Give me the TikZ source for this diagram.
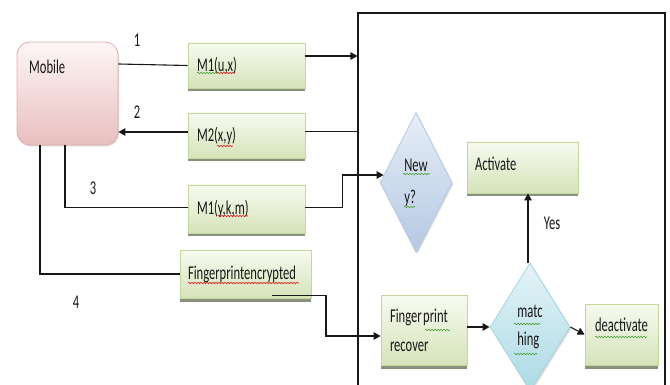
\documentclass[tikz,border=0pt]{standalone}
\usepackage{fontspec}
\setmainfont{Carlito}[FakeStretch=0.645]
\usetikzlibrary{arrows.meta,shapes.geometric,shadows,decorations.pathmorphing}

\definecolor{ink}{HTML}{181818}
\definecolor{grtop}{HTML}{F7FAF0}
\definecolor{grbot}{HTML}{D5E3B9}
\definecolor{grline}{HTML}{C4D79C}
\definecolor{pktop}{HTML}{FEF6F6}
\definecolor{pkbot}{HTML}{E8BEBE}
\definecolor{pkline}{HTML}{E2AEAE}
\definecolor{bltop}{HTML}{E6EEF7}
\definecolor{blbot}{HTML}{B4C8E2}
\definecolor{blline}{HTML}{B6CBE3}
\definecolor{aqtop}{HTML}{E4F3F7}
\definecolor{aqbot}{HTML}{ACDAE5}
\definecolor{aqline}{HTML}{A6D4E1}
\definecolor{sqred}{HTML}{E01010}
\definecolor{sqgreen}{HTML}{3FA02A}

\tikzset{
  every node/.style={font=\fontsize{19.5}{23}\selectfont, text=ink},
  conn/.style={draw=ink, line width=1.1pt},
  arr/.style={conn, -{Triangle[length=7pt,width=7.5pt]}},
  msgbox/.style={draw=grline, line width=0.8pt, top color=grtop, bottom color=grbot,
    drop shadow={shadow xshift=0pt, shadow yshift=-3.5pt, fill=black!45!grbot, opacity=0.85},
    inner ysep=0pt, align=left},
  mobbox/.style={draw=pkline, line width=0.8pt, top color=pktop, bottom color=pkbot,
    drop shadow={shadow xshift=1pt, shadow yshift=-1.5pt, fill=black!30, opacity=0.5},
    rounded corners=13pt, inner sep=0pt},
  newdia/.style={diamond, draw=blline, line width=0.8pt, top color=bltop, bottom color=blbot,
    drop shadow={shadow xshift=1.5pt, shadow yshift=-1.5pt, fill=black!35, opacity=0.45},
    inner sep=0pt, align=left},
  matchdia/.style={diamond, draw=aqline, line width=0.8pt, top color=aqtop, bottom color=aqbot,
    drop shadow={shadow xshift=1.5pt, shadow yshift=-1.5pt, fill=black!35, opacity=0.4},
    inner sep=0pt, align=left},
  numlabel/.style={inner sep=0pt},
  squig/.style={decorate, decoration={snake, amplitude=0.7pt, segment length=3pt}, line width=0.6pt},
}

\begin{document}
\begin{tikzpicture}[x=1pt, y=-1pt]
\useasboundingbox (0,0) rectangle (670,385);

% system frame
\node[draw=ink, line width=1.1pt, minimum width=307pt, minimum height=400pt, inner sep=0pt] (sys) at (511.5,213) {};

% mobile device
\node[mobbox, minimum width=101pt, minimum height=103pt] (mobile) at (67.5,93.5) {};
\node[inner sep=0pt, anchor=west] (mobtxt) at (29,67) {Mobile};

% messages
\node[msgbox, minimum height=45pt, text width=99pt, inner xsep=9pt] (m1ux) at (246.5,65.5) {M1(u,x)};
\node[msgbox, minimum height=45pt, text width=99pt, inner xsep=9pt] (m2) at (246.5,135.5) {M2(x,y)};
\node[msgbox, minimum height=48pt, text width=99pt, inner xsep=9pt] (m1ykm) at (246.5,209) {M1(y,k,m)};
\node[msgbox, minimum height=48pt, text width=115pt, inner xsep=8pt] (fenc) at (245.5,274) {Fingerprintencrypted};

% inside the system
\node[newdia, minimum width=72pt, minimum height=140pt] (newy) at (416,182.5) {New\\[9pt]y?};
\node[msgbox, minimum height=51pt, text width=95pt, inner xsep=8pt, text height=13pt, text depth=7.5pt] (act) at (522.5,167.5) {Activate};
\node[msgbox, minimum height=70pt, text width=68pt, inner xsep=9pt] (fpr) at (424,330) {Finger\hspace{1.5pt}print\\[6pt]recover};
\node[matchdia, minimum width=80pt, minimum height=128pt] (match) at (530,327) {matc\\[5pt]hing};
\node[msgbox, minimum height=61pt, text width=73pt, inner xsep=0pt, align=center, text height=12pt, text depth=19pt] (dea) at (621.5,334.5) {deactivate};

% spell-check underlines
\draw[squig, sqgreen] (197,73) -- (217,73);
\draw[squig, sqred] (217,73) -- (235,73);
\draw[squig, sqred] (217,146) -- (233,146);
\draw[squig, sqred] (218,216) -- (248,216);
\draw[squig, sqred] (188,283) -- (299,283);
\draw[squig, sqgreen] (403,174) -- (430,174);
\draw[squig, sqgreen] (404,207) -- (415,207);
\draw[squig, sqgreen] (425,330) -- (450,330);
\draw[squig, sqgreen] (514,324) -- (540,324);
\draw[squig, sqgreen] (514,354) -- (537,354);
\draw[squig, sqgreen] (595,337) -- (647,337);

% step numbers
\node[numlabel] (n1) at (137,40) {1};
\node[numlabel] (n2) at (137,112) {2};
\node[numlabel] (n3) at (93,188) {3};
\node[numlabel] (n4) at (76,302) {4};
\node[inner sep=0pt] (yes) at (552,223) {Yes};

% connectors
\draw[conn] ([yshift=29.5pt]mobile.east) -- (m1ux.west);
\draw[arr] ([yshift=9.5pt]m1ux.east) -- ([yshift=9.5pt]m1ux.east -| sys.west);
\draw[conn] ([yshift=4pt]m2.east -| sys.west) -- ([yshift=4pt]m2.east);
\draw[arr] ([yshift=3.5pt]m2.west) -- ([yshift=3.5pt]m2.west -| mobile.east);
\draw[conn] ([xshift=-2.5pt]mobile.south) |- ([yshift=1.5pt]m1ykm.west);
\draw[arr] ([yshift=1.5pt]m1ykm.east) -- ++(37,0) |- ([shift={(4pt,7.5pt)}]newy.west);
\draw[conn] ([xshift=-27.5pt]mobile.south) |- (fenc.west);
\draw[arr] ([xshift=26.5pt,yshift=3pt]fenc.south) -- ++(54,0) |- ([yshift=-6pt]fpr.west);
\draw[arr] ([yshift=3pt]fpr.east) -- (match.west);
\draw[arr] (match.east) -- (dea.west);
\draw[arr] ([xshift=-2pt]match.north) -- ([xshift=-2pt]match.north |- act.south);
\end{tikzpicture}
\end{document}
